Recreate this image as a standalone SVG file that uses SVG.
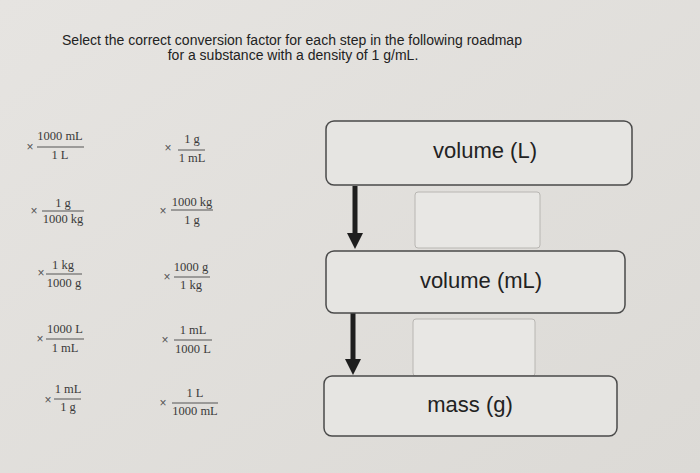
<svg xmlns="http://www.w3.org/2000/svg" width="700" height="473" viewBox="0 0 700 473">
<defs>
<linearGradient id="bg" x1="0" y1="0" x2="1" y2="1">
<stop offset="0" stop-color="#e6e4e1"/>
<stop offset="1" stop-color="#dcdad6"/>
</linearGradient>
<marker id="ah" viewBox="0 0 16 16" refX="0" refY="8" markerWidth="16" markerHeight="16" markerUnits="userSpaceOnUse" orient="auto">
<path d="M0,0 L16,8 L0,16 Z" fill="#1e1e1e"/>
</marker>
</defs>
<style>
.title{font-family:"Liberation Sans",Arial,sans-serif;font-size:14px;fill:#222;text-anchor:middle}
.fr{font-family:"Liberation Serif","Times New Roman",serif;font-size:12.5px;fill:#3a3a3a;text-anchor:middle}
.x{font-family:"Liberation Sans",Arial,sans-serif;font-size:12px;fill:#555;text-anchor:middle}
.bar{stroke:#555;stroke-width:1}
.node rect{fill:#e6e5e2;stroke:#4a4a4a;stroke-width:1.5}
.node text{font-family:"Liberation Sans",Arial,sans-serif;font-size:22px;fill:#222;text-anchor:middle}
.slot{fill:#e8e7e4;stroke:#b8b6b2;stroke-width:1}
.conn{stroke:#1e1e1e;stroke-width:5;fill:none}
</style>
<rect width="700" height="473" fill="url(#bg)"/>
<g id="title">
<text class="title" x="292" y="45">Select the correct conversion factor for each step in the following roadmap</text>
<text class="title" x="293" y="60">for a substance with a density of 1 g/mL.</text>
</g>
<g id="factors">
<g id="f1"><text class="x" x="30" y="151">×</text><text class="fr" x="60" y="140">1000 mL</text><line class="bar" x1="37" y1="147" x2="84" y2="147"/><text class="fr" x="60" y="159">1 L</text></g>
<g id="f2"><text class="x" x="168" y="152">×</text><text class="fr" x="192" y="143">1 g</text><line class="bar" x1="178" y1="150" x2="205" y2="150"/><text class="fr" x="192" y="162">1 mL</text></g>
<g id="f3"><text class="x" x="34" y="215">×</text><text class="fr" x="63" y="207">1 g</text><line class="bar" x1="42" y1="211" x2="84" y2="211"/><text class="fr" x="63" y="223">1000 kg</text></g>
<g id="f4"><text class="x" x="163" y="215">×</text><text class="fr" x="192" y="206">1000 kg</text><line class="bar" x1="171" y1="210" x2="213" y2="210"/><text class="fr" x="192" y="224">1 g</text></g>
<g id="f5"><text class="x" x="41" y="277">×</text><text class="fr" x="63" y="269">1 kg</text><line class="bar" x1="46" y1="274" x2="82" y2="274"/><text class="fr" x="64" y="287">1000 g</text></g>
<g id="f6"><text class="x" x="167" y="281">×</text><text class="fr" x="191" y="271">1000 g</text><line class="bar" x1="174" y1="277" x2="210" y2="277"/><text class="fr" x="191" y="289">1 kg</text></g>
<g id="f7"><text class="x" x="40" y="343">×</text><text class="fr" x="65" y="333">1000 L</text><line class="bar" x1="46" y1="339" x2="84" y2="339"/><text class="fr" x="65" y="352">1 mL</text></g>
<g id="f8"><text class="x" x="165" y="344">×</text><text class="fr" x="193" y="334">1 mL</text><line class="bar" x1="174" y1="340" x2="212" y2="340"/><text class="fr" x="193" y="353">1000 L</text></g>
<g id="f9"><text class="x" x="48" y="404">×</text><text class="fr" x="68" y="393">1 mL</text><line class="bar" x1="54" y1="399" x2="81" y2="399"/><text class="fr" x="68" y="411">1 g</text></g>
<g id="f10"><text class="x" x="163" y="407">×</text><text class="fr" x="195" y="397">1 L</text><line class="bar" x1="172" y1="403" x2="218" y2="403"/><text class="fr" x="195" y="415">1000 mL</text></g>
</g>
<g id="connectors">
<line class="conn" x1="355" y1="186" x2="355" y2="233" marker-end="url(#ah)"/>
<line class="conn" x1="353" y1="313" x2="353" y2="359" marker-end="url(#ah)"/>
</g>
<g id="slot1"><rect class="slot" x="415" y="192" width="125" height="56" rx="3"/></g>
<g id="slot2"><rect class="slot" x="413" y="319" width="122" height="57" rx="3"/></g>
<g id="volumeL" class="node"><rect x="326" y="121" width="306" height="64" rx="8"/><text x="485" y="158">volume (L)</text></g>
<g id="volumemL" class="node"><rect x="326" y="251" width="299" height="62" rx="8"/><text x="481" y="288">volume (mL)</text></g>
<g id="massg" class="node"><rect x="324" y="376" width="293" height="60" rx="8"/><text x="470" y="412">mass (g)</text></g>
</svg>
